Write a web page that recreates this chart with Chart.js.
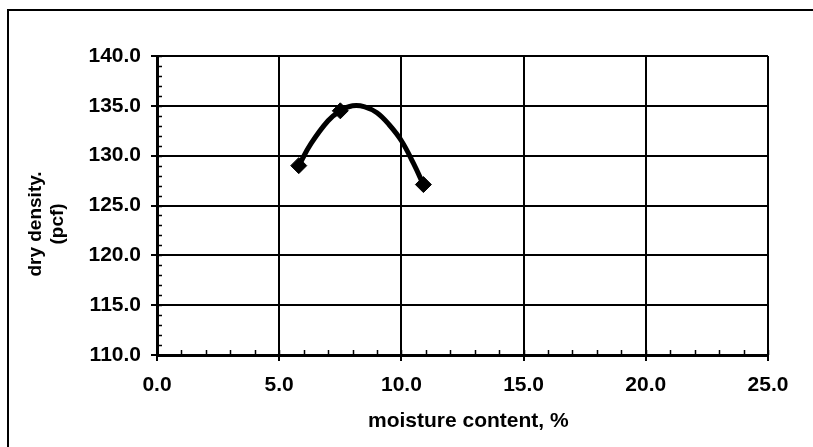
<!DOCTYPE html>
<html>
<head>
<meta charset="utf-8">
<script src="https://cdn.jsdelivr.net/npm/chart.js@4.4.0/dist/chart.umd.min.js"></script>
<style>
  html, body { margin: 0; padding: 0; background: #fff; }
  #wrap { position: relative; width: 813px; height: 447px; overflow: hidden; }
  #frame { position: absolute; left: 7px; top: 9px; width: 820px; height: 460px;
           border-left: 2px solid #000; border-top: 2px solid #000; }
  canvas { position: absolute; left: 0; top: 0; }
</style>
</head>
<body>
<div id="wrap">
  <div id="frame"></div>
  <canvas id="chart" width="813" height="447"></canvas>
</div>
<script>
// measured points (moisture %, dry density pcf)
const moisture = [5.8, 7.5, 10.9];
const density = [129.0, 134.5, 127.1];

// the fitted curve
const curveX = [5.8, 6.3, 7.0, 7.5, 8.0, 8.5, 9.0, 9.5, 10.0, 10.5, 10.9];
const curveY = [129.0, 131.2, 133.5, 134.5, 135.0, 134.9, 134.3, 133.1, 131.5, 129.2, 127.1];

const xTicks = [0, 5, 10, 15, 20, 25];
const yTicks = [110, 115, 120, 125, 130, 135, 140];

const points = moisture.map((x, i) => ({x: x, y: density[i]}));
const curve = curveX.map((x, i) => ({x: x, y: curveY[i]}));

// small inward minor ticks every 1 unit
const minorTicks = {
  id: 'minorTicks',
  afterDatasetsDraw(chart) {
    const c = chart.ctx, xs = chart.scales.x, ys = chart.scales.y;
    const a = chart.chartArea;
    c.save();
    c.strokeStyle = '#000';
    c.lineWidth = 1.5;
    c.beginPath();
    for (let v = ys.min; v <= ys.max; v++) {
      const py = Math.round(ys.getPixelForValue(v)) + 0.5;
      c.moveTo(a.left, py); c.lineTo(a.left + 5, py);
    }
    for (let v = xs.min; v <= xs.max; v++) {
      const px = Math.round(xs.getPixelForValue(v)) + 0.5;
      c.moveTo(px, a.bottom); c.lineTo(px, a.bottom - 5);
    }
    c.stroke();
    c.restore();
  }
};

const fam = '"Liberation Sans", Arial, sans-serif';
const tickFont = {family: fam, weight: 'bold', size: 21};
const nb = '\u00a0';

new Chart(document.getElementById('chart'), {
  type: 'scatter',
  data: {
    datasets: [{
      label: 'curve',
      data: curve,
      showLine: true,
      borderColor: '#000',
      borderWidth: 5,
      tension: 0.4,
      pointRadius: 0
    }, {
      label: 'points',
      data: points,
      pointStyle: 'rectRot',
      pointRadius: 8,
      backgroundColor: '#000',
      borderColor: '#000'
    }]
  },
  options: {
    responsive: false,
    animation: false,
    layout: {padding: {left: 20, top: 56, right: 45, bottom: 4}},
    plugins: {legend: {display: false}, tooltip: {enabled: false}},
    scales: {
      x: {
        type: 'linear',
        min: 0, max: 25,
        afterBuildTicks: s => { s.ticks = xTicks.map(v => ({value: v})); },
        afterFit: s => { s.height = 88; },
        grid: {color: '#000', lineWidth: 2, tickLength: 6, tickColor: '#000'},
        border: {color: '#000', width: 3},
        ticks: {color: '#000', font: tickFont, padding: 12, maxRotation: 0,
                callback: v => v.toFixed(1)},
        title: {display: true, text: nb + nb + 'moisture content, %', color: '#000',
                font: {family: fam, weight: 'bold', size: 21}, padding: {top: 0, bottom: 9}}
      },
      y: {
        min: 110, max: 140,
        afterBuildTicks: s => { s.ticks = yTicks.map(v => ({value: v})); },
        afterFit: s => { s.width = 137; },
        grid: {color: '#000', lineWidth: 2, tickLength: 6, tickColor: '#000'},
        border: {color: '#000', width: 3},
        ticks: {color: '#000', font: tickFont, padding: 10,
                callback: v => v.toFixed(1)},
        title: {display: true, text: ['dry density.' + nb.repeat(7), '(pcf)' + nb.repeat(7)], color: '#000',
                font: {family: fam, weight: 'bold', size: 19, lineHeight: 1.16},
                padding: {top: 5, bottom: 0}}
      }
    }
  },
  plugins: [minorTicks]
});
</script>
</body>
</html>
